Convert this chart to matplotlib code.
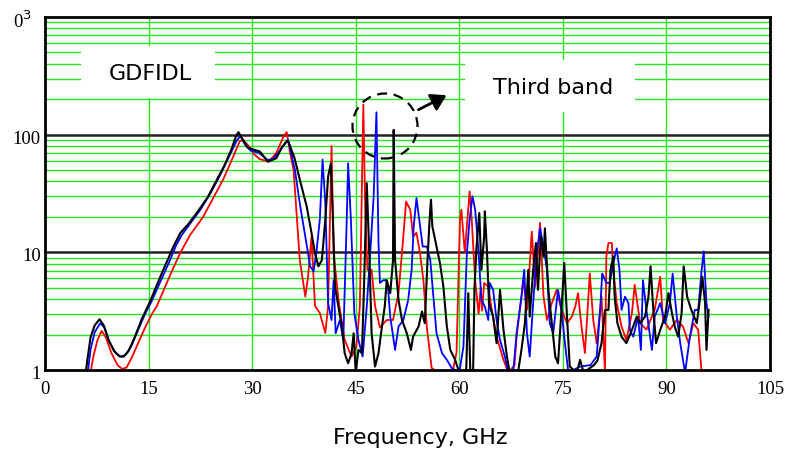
import matplotlib
matplotlib.use("Agg")
import matplotlib.pyplot as plt
from matplotlib.patches import Rectangle, Ellipse
from matplotlib.transforms import Bbox, ScaledTranslation

# impedance spectra (three runs), frequency in GHz
freq_red = [6.6, 7.0, 7.6, 8.2, 8.8, 9.6, 10.5, 11.2, 11.8, 12.5, 13.5, 14.5, 15.5, 16.2, 17.2, 18.5,
            19.6, 21.0, 22.9, 24.5, 25.8, 27.0, 28.2, 28.7, 29.5, 30.3, 31.1, 32.4, 33.5, 34.5, 35.0, 35.5,
            36.0, 36.5, 36.9, 37.7, 38.1, 38.6, 39.1, 39.8, 40.6, 41.0, 41.5, 41.8, 42.5, 43.4, 44.4, 45.1,
            45.6, 46.1, 46.4, 46.7, 47.3, 47.8, 48.5, 49.5, 50.4, 51.2, 51.7, 52.3, 52.9, 53.3, 53.8, 54.3,
            54.8, 55.3, 56.0, 57.0, 59.0, 59.6, 60.1, 60.3, 60.8, 61.5, 61.8, 62.3, 62.8, 63.1, 63.3, 63.6,
            64.2, 64.7, 65.4, 66.4, 67.1, 68.0, 68.3, 69.3, 69.8, 70.5, 71.0, 71.7, 72.2, 72.7, 73.4, 74.1,
            74.8, 75.6, 76.3, 76.8, 77.2, 77.7, 78.2, 78.9, 79.4, 79.9, 80.6, 81.1, 81.3, 81.6, 82.1, 82.3,
            82.8, 83.5, 84.2, 85.0, 85.4, 86.2, 87.1, 88.3, 89.1, 89.5, 90.5, 91.5, 92.4, 93.2, 93.9, 94.6,
            95.1]
val_red = [0.95, 1.3, 1.8, 2.15, 1.9, 1.4, 1.1, 1.02, 1.05, 1.25, 1.7, 2.3, 3.0, 3.5, 4.8, 7.2,
           9.9, 14, 20, 30, 41.5, 60, 88, 90, 80, 68, 62, 59, 70, 95, 105, 70,
           50, 19, 8.6, 4.2, 6.2, 13.6, 3.5, 3.05, 2.06, 3.5, 80, 9.9, 3.94, 1.8, 1.3, 1.58,
           3.5, 180, 20, 7.1, 7.1, 3.5, 2.3, 2.66, 2.66, 4.5, 9.9, 27, 23, 13.6, 14.7, 9.9,
           5.8, 2.3, 1.04, 0.95, 0.95, 1.4, 19, 23, 10, 33, 19, 5.8, 3.0, 5.0, 3.2, 5.5,
           5.1, 3.24, 1.92, 1.22, 0.95, 1.1, 1.92, 5.8, 3.24, 15, 5.1, 17.8, 4.2, 2.66, 3.7, 4.8,
           3.24, 2.5, 2.84, 3.46, 4.5, 2.34, 1.39, 6.6, 2.66, 1.69, 4.2, 0.95, 9.2, 12, 12, 7.1,
           3.7, 2.34, 1.8, 3.04, 5.3, 2.5, 2.2, 3.24, 6.2, 2.66, 2.2, 2.66, 2.34, 1.69, 2.5, 2.2,
           0.95]

freq_blue = [6.2, 6.6, 7.2, 8.0, 8.6, 9.3, 10.2, 11.0, 11.7, 12.5, 13.5, 14.5, 15.5, 16.8, 18.0, 19.0,
             19.8, 21.0, 22.5, 24.0, 25.5, 26.8, 27.8, 28.3, 29.0, 29.8, 31.0, 32.2, 33.0, 34.0, 35.2, 36.2,
             36.9, 37.7, 38.4, 38.9, 39.3, 39.8, 40.2, 40.6, 41.0, 41.5, 41.8, 42.1, 42.7, 43.2, 43.7, 43.9,
             44.3, 44.8, 45.4, 46.0, 46.6, 47.1, 47.6, 48.0, 48.3, 48.5, 49.0, 49.4, 49.7, 50.0, 50.7, 51.2,
             51.9, 52.6, 53.1, 53.4, 53.8, 54.2, 54.7, 55.3, 55.8, 56.2, 56.7, 57.5, 58.2, 58.9, 60.0, 60.6,
             61.1, 61.5, 61.9, 62.3, 62.8, 63.2, 63.7, 64.2, 64.4, 64.9, 65.4, 65.9, 66.6, 67.1, 67.8, 68.3,
             69.0, 69.4, 69.8, 70.2, 70.7, 71.2, 71.7, 72.2, 72.7, 73.1, 73.6, 74.3, 74.8, 75.3, 75.8, 77.5,
             79.0, 79.9, 80.4, 80.7, 81.3, 81.8, 82.3, 82.8, 83.2, 83.5, 84.0, 84.5, 84.7, 85.2, 85.9, 86.3,
             86.6, 87.1, 87.9, 88.3, 89.1, 89.8, 90.5, 90.9, 91.5, 92.0, 92.7, 93.4, 94.1, 94.6, 95.1, 95.4,
             95.8, 96.1]
val_blue = [0.95, 1.5, 2.1, 2.5, 2.3, 1.75, 1.4, 1.3, 1.35, 1.6, 2.2, 3.0, 3.9, 5.8, 8.3, 11.5,
            14.0, 17.5, 23, 32, 47, 68, 90, 97, 82, 73, 70, 61, 62, 73, 91, 50,
            26, 13.6, 7.6, 6.9, 9.9, 19, 61.5, 26, 3.7, 2.66, 5.8, 2.05, 2.66, 1.8, 19, 57,
            19, 3.04, 1.8, 1.3, 3.46, 9.9, 30, 155, 12, 5.5, 5.8, 5.8, 4.8, 2.84, 1.48, 2.34,
            2.66, 3.94, 7.1, 16.6, 29, 19, 11.2, 11.2, 8.6, 4.5, 2.05, 1.39, 1.22, 1.04, 0.95, 1.58,
            9.9, 19, 30, 23, 9.9, 3.94, 3.46, 2.66, 5.5, 4.8, 2.66, 1.8, 1.3, 0.95, 0.95, 2.05,
            4.2, 7.1, 2.05, 1.3, 3.7, 9.8, 16, 11.2, 7.1, 2.5, 2.05, 4.8, 3.24, 1.69, 0.95, 1.07,
            1.1, 1.3, 3.24, 6.6, 5.5, 5.5, 8.1, 10.8, 7.1, 3.24, 4.2, 3.7, 2.19, 1.92, 2.84, 1.48,
            5.8, 3.24, 1.48, 2.84, 3.7, 2.5, 3.7, 6.6, 2.84, 1.69, 0.95, 1.92, 3.24, 3.24, 7.1, 10.2,
            3.7, 2.84]

freq_black = [5.9, 6.2, 6.6, 7.2, 7.9, 8.5, 9.2, 10.0, 10.8, 11.4, 12.1, 13.0, 14.0, 15.2, 16.7, 18.6,
              19.6, 20.8, 22.0, 23.5, 24.9, 26.0, 27.0, 27.6, 28.0, 28.6, 29.3, 30.1, 31.1, 32.3, 33.5, 34.3,
              35.0, 35.3, 36.2, 36.9, 37.9, 38.6, 39.1, 39.6, 40.1, 40.6, 41.0, 41.4, 41.7, 42.0, 42.5, 43.0,
              43.4, 43.9, 44.4, 44.7, 45.0, 45.4, 45.9, 46.2, 46.6, 47.0, 47.3, 47.8, 48.3, 48.8, 49.2, 49.5,
              50.0, 50.4, 50.5, 50.7, 51.2, 51.7, 52.4, 53.0, 53.3, 54.1, 54.6, 55.0, 55.4, 55.7, 55.9, 56.1,
              56.7, 57.2, 57.7, 58.2, 58.7, 59.4, 60.0, 61.0, 61.3, 61.6, 62.0, 62.2, 62.5, 62.9, 63.2, 63.6,
              63.7, 64.0, 64.3, 64.9, 65.4, 65.9, 66.4, 66.9, 67.3, 68.5, 69.0, 69.5, 70.0, 70.2, 70.7, 71.1,
              71.4, 71.8, 72.2, 72.4, 72.9, 73.4, 73.9, 74.3, 74.8, 75.2, 75.6, 76.0, 77.0, 77.5, 78.0, 79.5,
              80.0, 80.6, 81.1, 81.6, 81.9, 82.3, 82.5, 82.9, 83.5, 84.2, 85.0, 85.7, 86.2, 86.9, 87.4, 87.7,
              88.1, 88.5, 89.1, 89.8, 90.3, 90.8, 91.2, 91.7, 92.2, 92.5, 93.0, 93.6, 94.4, 94.9, 95.2, 95.6,
              95.8, 96.1]
val_black = [0.95, 1.3, 1.9, 2.4, 2.7, 2.4, 1.8, 1.45, 1.3, 1.3, 1.45, 1.9, 2.7, 3.8, 6.2, 11.2,
             14.6, 17.5, 21.7, 29, 41.5, 55, 75, 95, 105, 92, 78, 75, 72, 59, 63, 78,
             88, 86, 61.5, 41.5, 24.6, 14.6, 9.8, 7.6, 8.6, 19, 44, 57, 19, 5.1, 3.46, 2.34,
             1.39, 1.14, 1.39, 2.05, 0.95, 1.48, 1.39, 5.1, 38.6, 8.6, 2.05, 1.07, 1.39, 2.34, 3.46, 5.8,
             4.5, 8.6, 110, 8.6, 3.94, 2.66, 2.05, 1.48, 1.92, 2.34, 3.14, 2.5, 8.6, 19, 28, 16.6,
             11.2, 8.1, 5.1, 2.34, 1.48, 1.22, 0.95, 0.95, 4.5, 0.95, 0.95, 5.0, 11.2, 21.6, 7.1, 13.6,
             22.3, 10.5, 3.7, 2.84, 1.69, 4.8, 2.19, 1.3, 0.95, 0.95, 1.48, 2.5, 7.1, 2.84, 7.1, 12,
             4.8, 13.6, 9.2, 16, 4.8, 2.5, 1.3, 1.14, 3.24, 8.1, 2.84, 1.07, 0.95, 1.22, 0.95, 1.1,
             1.2, 1.69, 3.24, 3.24, 7.1, 9.2, 4.2, 2.5, 1.92, 1.69, 2.19, 2.84, 2.5, 2.84, 4.2, 7.6,
             3.24, 1.69, 2.19, 2.84, 4.5, 3.04, 2.34, 1.92, 3.04, 7.6, 4.2, 3.24, 2.5, 4.2, 6.2, 3.7,
             1.48, 3.24]

x_ticks = [0, 15, 30, 45, 60, 75, 90, 105]
y_ticks = [1, 10, 100]
y_labels = ["1", "10", "100"]

W, H = 795, 459
fig = plt.figure(figsize=(W / 100, H / 100), dpi=100)
ax = fig.add_axes([45 / W, 1 - 370 / H, 725 / W, 353 / H])

def px(x, y):
    return x / W, 1 - y / H

green = "#22e622"
ax.set_yscale("log")
ax.set_xlim(0, 105)
ax.set_ylim(1, 1000)

# grid
for xv in x_ticks[1:-1]:
    ax.axvline(xv, color=green, lw=1.0, zorder=1)
for dec in [1, 10, 100]:
    for m in range(2, 10):
        ax.axhline(dec * m, color=green, lw=1.0, zorder=1)
for yv in [10, 100]:
    ax.axhline(yv, color="#222222", lw=1.8, zorder=2)

ax.plot(freq_red, val_red, color="#ff0000", lw=1.3, zorder=4)
ax.plot(freq_blue, val_blue, color="#0000ff", lw=1.3, zorder=4)
ax.plot(freq_black, val_black, color="black", lw=1.5, zorder=5)

for s in ax.spines.values():
    s.set_linewidth(2)
    s.set_color("black")
    s.set_zorder(6)

ax.set_xticks(x_ticks)
ax.set_xticklabels([str(v) for v in x_ticks])
ax.set_yticks(y_ticks)
ax.set_yticklabels(y_labels)
ax.minorticks_off()
ax.tick_params(length=0, labelsize=13.5, pad=3)
ax.tick_params(axis="x", pad=8)
for lab in ax.get_xticklabels() + ax.get_yticklabels():
    lab.set_family("Liberation Serif")
for lab in ax.get_yticklabels():
    lab.set_va("top")
    lab.set_transform(lab.get_transform() + ScaledTranslation(0, 3 / 72, fig.dpi_scale_trans))

# 10^3 label at the top, partly cut at the left
t = fig.text(32 / W, 1 - 21 / H, "10$^3$", ha="right", va="center", fontsize=13.5,
             family="Liberation Serif", clip_on=True)
t.set_clip_box(Bbox.from_extents(14, 0, 60, H))

# annotation boxes
fig.patches.append(Rectangle(px(81, 98), 134 / W, 52 / H, transform=fig.transFigure,
                             facecolor="white", edgecolor="none", zorder=3))
fig.text(*px(150, 74), "GDFIDL", ha="center", va="center", fontsize=16, zorder=4)
fig.patches.append(Rectangle(px(465, 112), 170 / W, 52 / H, transform=fig.transFigure,
                             facecolor="white", edgecolor="none", zorder=3))
fig.text(*px(553, 88), "Third band", ha="center", va="center", fontsize=16, zorder=4)

fig.patches.append(Ellipse(px(385, 126), 65 / W, 65 / H, transform=fig.transFigure,
                           facecolor="none", edgecolor="black", lw=1.6,
                           linestyle=(0, (4.5, 3)), zorder=7))
ax.annotate("", xy=px(449, 94), xycoords="figure fraction",
            xytext=px(416, 111), textcoords="figure fraction",
            arrowprops=dict(arrowstyle="-|>,head_length=0.9,head_width=0.55",
                            color="black", lw=2), zorder=7)

fig.text(*px(420, 438), "Frequency, GHz", ha="center", va="center", fontsize=16)

fig.savefig("out.png", dpi=100)
